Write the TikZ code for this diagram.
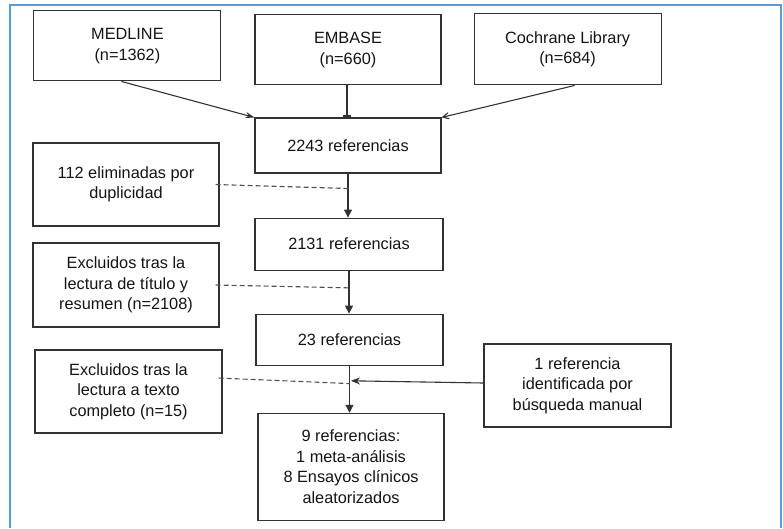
\documentclass[tikz,border=0pt]{standalone}
\usepackage{fontspec}
\setmainfont{Liberation Sans}
\usetikzlibrary{
    arrows.meta,
    positioning,
    calc
}
\definecolor{framecol}{RGB}{91,155,213}
\definecolor{boxcol}{RGB}{50,50,50}
\definecolor{textcol}{RGB}{20,20,20}

\begin{document}
\begin{tikzpicture}[
  x=1pt, y=-1pt,
  >=Stealth,
  box/.style    = {rectangle, draw=boxcol, line width=1.1pt, align=center,
                   text=textcol, inner sep=0pt,
                   minimum width=187pt, minimum height=70pt},
  flow/.style   = {draw=boxcol, line width=1.1pt},
  excl/.style   = {draw=boxcol!85, line width=1.1pt, dash pattern=on 5pt off 3pt},
  every node/.style = {font=\fontsize{16.3}{20.5}\selectfont}
]
\useasboundingbox (0,0) rectangle (783,528);

% Frame
\draw[framecol, line width=1.6pt] (10,528) -- (10,5) -- (781,5) -- (781,528);

% Nodes
\node[box, minimum width=186pt, minimum height=55pt] (r2243) at (348,145.5) {2243 referencias};
\node[box, minimum width=186pt, above=32pt of r2243] (embase) {EMBASE\\(n=660)};
\node[box, left=33pt of embase, yshift=4pt] (medline) {MEDLINE\\(n=1362)};
\node[box, minimum height=71pt, right=32pt of embase, yshift=0.5pt] (cochrane) {Cochrane Library\\(n=684)};

\node[box, minimum width=188pt, minimum height=52pt, below=44pt of r2243, xshift=1pt] (r2131) {2131 referencias};
\node[box, minimum height=51pt, below=43pt of r2131, xshift=0.5pt] (r23) {23 referencias};
\node[box, minimum width=186pt, minimum height=107pt, below=47pt of r23, xshift=1.5pt] (r9)
  {9 referencias:\\1 meta-análisis\\8 Ensayos clínicos\\aleatorizados};

\node[box, minimum width=186pt, minimum height=83pt] (elim) at (126,184.5) {112 eliminadas por\\duplicidad};
\node[box, minimum width=186pt, minimum height=84pt] (titulo) at (126,285) {Excluidos tras la\\lectura de título y\\resumen (n=2108)};
\node[box, minimum height=83pt] (completo) at (128.5,391.5) {Excluidos tras la\\lectura a texto\\completo (n=15)};
\node[box, minimum height=83pt] (manual) at (577.5,385.5) {1 referencia\\identificada por\\búsqueda manual};

% Join points on the main line
\coordinate (d1) at ($(r2243.south)!0.34!(r2131.north)$);
\coordinate (d2) at ($(r2131.south)!0.40!(r23.north)$);
\coordinate (d3) at ($(r23.south)!0.38!(r9.north)$);
\coordinate (d4) at ($(r23.south)!0.32!(r9.north)$);

% Databases to first count
\draw[flow, -{Stealth[length=9pt,width=6pt]}] ([xshift=-6pt]medline.south) -- (r2243.north west);
\draw[flow, -{Rectangle[length=2.5pt,width=8pt]}] ([xshift=-1pt]embase.south) -- ([xshift=-1pt]r2243.north);
\draw[flow, -{Straight Barb[length=6pt,width=6pt]}] ([xshift=7pt]cochrane.south) -- (r2243.north east);

% Main pipeline arrows
\draw[flow, -{Triangle[length=8pt,width=8pt]}] (r2243.south) -- (r2243.south |- r2131.north);
\draw[flow, -{Triangle[length=8pt,width=8pt]}] (r2131.south) -- (r2131.south |- r23.north);
\draw[flow, -{Triangle[length=8pt,width=8pt]}] (r23.south) -- (r23.south |- r9.north);

% Exclusions
\draw[excl] ([xshift=-4pt]elim.east) -- (d1);
\draw[excl] ([xshift=-4pt]titulo.east) -- (d2);
\draw[excl] ([xshift=-4pt,yshift=13.5pt]completo.east) -- (d3);

% Manual search
\draw[flow, -{Stealth[length=9pt,width=7pt]}] ([yshift=2.5pt]manual.west) -- ([xshift=1pt]d4);

\end{tikzpicture}
\end{document}
